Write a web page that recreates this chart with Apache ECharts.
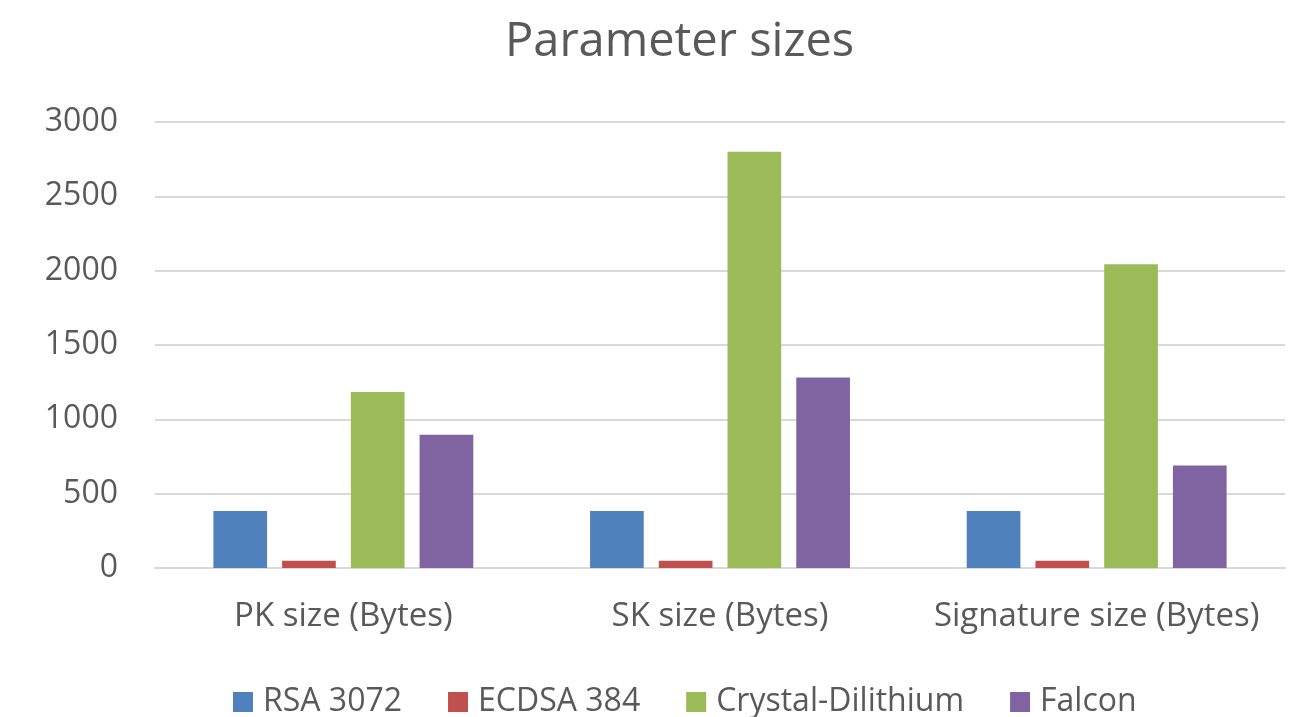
<!DOCTYPE html>
<html><head><meta charset="utf-8">
<script src="https://cdn.jsdelivr.net/npm/echarts@6/dist/echarts.min.js"></script>
<style>html,body{margin:0;padding:0;background:#fff}#c{width:1292px;height:717px}</style>
</head><body><div id="c"></div>
<script>
const categories = ["PK size (Bytes)", "SK size (Bytes)", "Signature size (Bytes)"];
const seriesNames = ["RSA 3072", "ECDSA 384", "Crystal-Dilithium", "Falcon"];
const rsa3072 = [384, 384, 384];
const ecdsa384 = [48, 48, 48];
const dilithium = [1184, 2800, 2044];
const falcon = [897, 1281, 690];
const colors = ["#4F81BD", "#C0504D", "#9BBB59", "#8064A2"];
const values = [rsa3072, ecdsa384, dilithium, falcon];

const font = "Open Sans";
const chart = echarts.init(document.getElementById('c'));
chart.setOption({
  animation: false,
  title: { text: "Parameter sizes", left: 500, top: 14,
    textStyle: { fontFamily: font, fontSize: 47, fontWeight: 'normal', color: '#595959' } },
  grid: { left: 155, right: 7, top: 122, bottom: 149, containLabel: false },
  legend: { top: 681, left: 228, itemWidth: 20, itemHeight: 20, itemGap: 46, icon: 'rect',
    textStyle: { fontFamily: font, fontSize: 32, color: '#595959', padding: [0, 0, 0, 5] } },
  xAxis: { type: 'category', data: categories,
    axisLine: { show: true, lineStyle: { color: '#D9D9D9', width: 2 } },
    axisTick: { show: false },
    axisLabel: { fontFamily: font, fontSize: 33, color: '#595959', margin: 32, interval: 0 } },
  yAxis: { type: 'value', min: 0, max: 3000, interval: 500,
    axisLine: { show: false }, axisTick: { show: false },
    splitLine: { lineStyle: { color: '#D9D9D9', width: 2 } },
    axisLabel: { fontFamily: font, fontSize: 32, color: '#595959', margin: 37,
      formatter: v => String(v) } },
  series: seriesNames.map((n, i) => ({
    name: n, type: 'bar', data: values[i], barGap: '28%', barCategoryGap: '31%',
    itemStyle: { color: colors[i] }
  }))
});
</script></body></html>
